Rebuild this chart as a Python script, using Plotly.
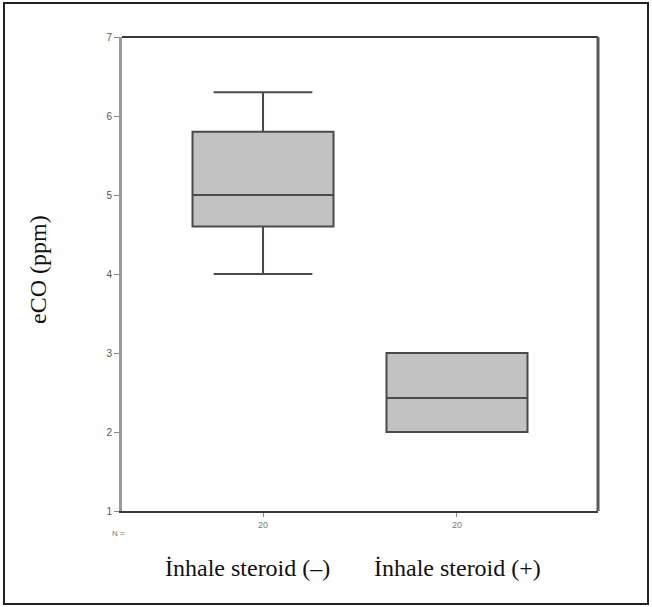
import plotly.graph_objects as go

groups = ["İnhale steroid (–)", "İnhale steroid (+)"]
n_labels = ["20", "20"]
lower_whisker = [4.0, 2.0]
q1 = [4.6, 2.0]
median = [5.0, 2.43]
q3 = [5.8, 3.0]
upper_whisker = [6.3, 3.0]
y_ticks = [1, 2, 3, 4, 5, 6, 7]

W, H = 652, 607
L, R, T, B = 122, 54, 37, 96
pw, ph = W - L - R, H - T - B

def px(x):
    return (x - L) / pw

def py(y):
    return (H - B - y) / ph

fig = go.Figure()
fig.add_trace(go.Box(
    x=[0, 1],
    q1=q1, median=median, q3=q3,
    lowerfence=lower_whisker, upperfence=upper_whisker,
    width=0.727, whiskerwidth=0.7,
    fillcolor="#c2c2c2",
    line=dict(color="#4a4a4a", width=2),
    boxpoints=False,
    showlegend=False,
    hoverinfo="skip",
))

fig.update_layout(
    width=W, height=H,
    margin=dict(l=L, r=R, t=T, b=B),
    paper_bgcolor="white", plot_bgcolor="white",
    xaxis=dict(
        range=[-0.727, 1.727], tickvals=[0, 1], ticktext=n_labels,
        showgrid=False, zeroline=False,
        showline=True, linecolor="#3a3a3a", linewidth=2,
        ticks="outside", ticklen=4, tickcolor="#888", tickwidth=1,
        tickfont=dict(family="Liberation Sans", size=9, color="#777"),
    ),
    yaxis=dict(
        range=[1, 7], tickvals=y_ticks, ticktext=[str(v) for v in y_ticks],
        showgrid=False, zeroline=False,
        showline=True, linecolor="#9a9a9a", linewidth=3,
        ticks="outside", ticklen=5, tickcolor="#888", tickwidth=1,
        tickfont=dict(family="Liberation Sans", size=10, color="#555"),
    ),
    shapes=[
        dict(type="line", xref="paper", yref="paper", x0=0, x1=1, y0=1, y1=1,
             line=dict(color="#3a3a3a", width=2)),
        dict(type="line", xref="paper", yref="paper", x0=1, x1=1, y0=0, y1=1,
             line=dict(color="#5a5a5a", width=3)),
        dict(type="rect", xref="paper", yref="paper",
             x0=px(4), x1=px(648), y0=py(604), y1=py(3),
             line=dict(color="#222", width=2)),
    ],
    annotations=[
        dict(text="eCO (ppm)", textangle=-90, xref="paper", yref="paper",
             x=px(38), y=py(270), xanchor="center", yanchor="middle",
             showarrow=False,
             font=dict(family="Liberation Serif", size=24, color="#111")),
        dict(text=groups[0], xref="paper", yref="paper",
             x=px(247), y=py(568), xanchor="center", yanchor="middle",
             showarrow=False,
             font=dict(family="Liberation Serif", size=24, color="#111")),
        dict(text=groups[1], xref="paper", yref="paper",
             x=px(457), y=py(568), xanchor="center", yanchor="middle",
             showarrow=False,
             font=dict(family="Liberation Serif", size=24, color="#111")),
        dict(text="N =", xref="paper", yref="paper",
             x=px(118), y=py(533), xanchor="center", yanchor="middle",
             showarrow=False,
             font=dict(family="Liberation Sans", size=8, color="#777")),
    ],
)

fig.write_html("out.html", config={"displayModeBar": False},
               post_script="document.body.style.margin='0';")
